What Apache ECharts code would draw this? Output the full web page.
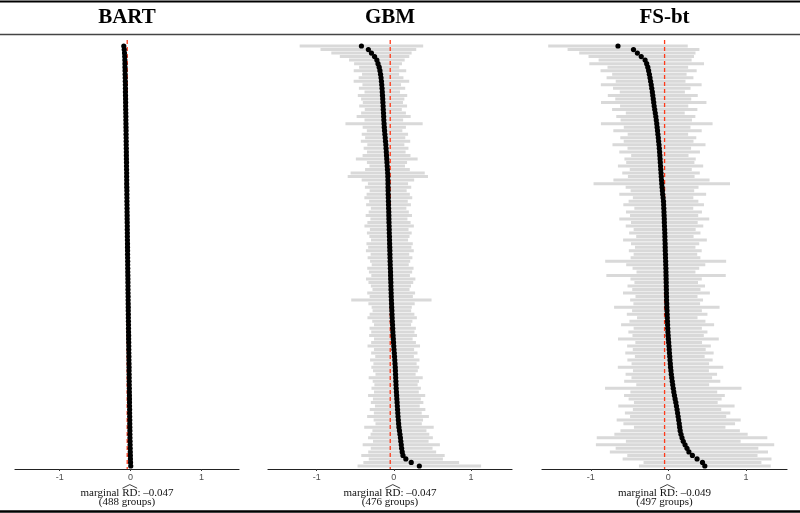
<!DOCTYPE html>
<html><head><meta charset="utf-8">
<script src="https://cdn.jsdelivr.net/npm/echarts@6/dist/echarts.min.js"></script>
<style>html,body{margin:0;padding:0;background:#fff}#c{width:800px;height:513px}</style>
</head><body><div id="c"></div>
<script>
const panelTitles = ['BART', 'GBM', 'FS-bt'];
const marginalRD = [-0.047, -0.047, -0.049];
const groupCounts = [488, 476, 497];
const xTicks = [-1, 0, 1];

const bartEst = [
-0.095,-0.089,-0.085,-0.082,-0.080,-0.079,-0.078,-0.077,-0.076,-0.075,
-0.074,-0.073,-0.072,-0.072,-0.071,-0.070,-0.069,-0.069,-0.068,-0.067,
-0.066,-0.066,-0.065,-0.064,-0.063,-0.063,-0.062,-0.061,-0.061,-0.060,
-0.059,-0.059,-0.058,-0.057,-0.057,-0.056,-0.055,-0.055,-0.054,-0.054,
-0.053,-0.052,-0.052,-0.051,-0.051,-0.050,-0.049,-0.049,-0.048,-0.048,
-0.047,-0.046,-0.046,-0.045,-0.045,-0.044,-0.043,-0.043,-0.042,-0.042,
-0.041,-0.040,-0.040,-0.039,-0.039,-0.038,-0.037,-0.037,-0.036,-0.036,
-0.035,-0.034,-0.034,-0.033,-0.032,-0.032,-0.031,-0.031,-0.030,-0.029,
-0.029,-0.028,-0.027,-0.027,-0.026,-0.025,-0.025,-0.024,-0.023,-0.023,
-0.022,-0.021,-0.021,-0.020,-0.019,-0.019,-0.018,-0.017,-0.017,-0.016,
-0.015,-0.015,-0.014,-0.013,-0.013,-0.012,-0.011,-0.011,-0.010,-0.009,
-0.009,-0.008,-0.007,-0.006,-0.005,-0.004,-0.003,-0.002,0.000,0.003];

const gbmEst = [
-0.420,-0.330,-0.290,-0.250,-0.220,-0.205,-0.190,-0.180,-0.172,-0.166,
-0.161,-0.157,-0.153,-0.150,-0.147,-0.144,-0.142,-0.139,-0.137,-0.134,
-0.132,-0.130,-0.127,-0.124,-0.120,-0.116,-0.112,-0.108,-0.104,-0.101,
-0.098,-0.095,-0.092,-0.089,-0.086,-0.083,-0.080,-0.078,-0.077,-0.076,
-0.075,-0.074,-0.073,-0.072,-0.070,-0.069,-0.068,-0.066,-0.065,-0.064,
-0.063,-0.061,-0.060,-0.059,-0.057,-0.056,-0.055,-0.053,-0.052,-0.051,
-0.050,-0.048,-0.047,-0.045,-0.043,-0.042,-0.041,-0.039,-0.038,-0.037,
-0.035,-0.034,-0.032,-0.030,-0.028,-0.026,-0.024,-0.022,-0.020,-0.017,
-0.015,-0.013,-0.010,-0.007,-0.004,-0.001,0.002,0.006,0.009,0.012,
0.015,0.018,0.020,0.022,0.024,0.026,0.028,0.030,0.033,0.036,
0.039,0.042,0.045,0.048,0.051,0.054,0.058,0.062,0.066,0.072,
0.079,0.085,0.090,0.096,0.101,0.108,0.118,0.155,0.225,0.330];

const gbmHalf = [
0.80,0.62,0.52,0.45,0.36,
0.31,0.26,0.34,0.24,0.29,0.36,0.25,0.30,0.23,0.32,0.28,0.26,0.31,0.24,0.29,0.35,
0.25,0.50,0.28,0.23,0.30,0.26,0.32,0.24,0.29,0.25,0.31,0.40,0.26,0.23,0.29,0.48,0.52,0.34,0.26,0.30,
0.24,0.28,0.31,0.25,0.29,0.23,0.26,0.30,0.24,0.28,0.32,0.25,0.29,0.26,0.24,0.30,0.28,0.31,0.25,0.29,
0.26,0.24,0.30,0.28,0.25,0.32,0.29,0.26,0.24,0.31,0.28,0.52,0.30,0.26,0.25,0.29,0.32,0.26,0.24,0.30,
0.28,0.31,0.25,0.29,0.34,0.26,0.30,0.25,0.32,0.28,0.31,0.29,0.26,0.35,0.30,0.28,0.32,0.29,0.37,0.31,
0.34,0.29,0.36,0.31,0.40,0.32,0.30,0.45,0.35,0.38,0.42,0.36,0.50,0.40,0.44,0.54,0.48,0.62,0.80];

const fsEst = [
-0.650,-0.450,-0.400,-0.350,-0.300,-0.280,-0.265,-0.255,-0.245,-0.237,
-0.229,-0.221,-0.214,-0.207,-0.201,-0.195,-0.189,-0.183,-0.176,-0.169,
-0.162,-0.156,-0.150,-0.145,-0.140,-0.135,-0.130,-0.126,-0.121,-0.117,
-0.113,-0.110,-0.107,-0.104,-0.101,-0.098,-0.095,-0.092,-0.089,-0.085,
-0.081,-0.077,-0.073,-0.068,-0.063,-0.061,-0.059,-0.057,-0.055,-0.053,
-0.052,-0.050,-0.048,-0.046,-0.045,-0.044,-0.042,-0.041,-0.040,-0.038,
-0.037,-0.035,-0.034,-0.032,-0.031,-0.030,-0.029,-0.028,-0.027,-0.026,
-0.025,-0.024,-0.023,-0.021,-0.020,-0.018,-0.016,-0.014,-0.012,-0.010,
-0.008,-0.006,-0.003,0.000,0.004,0.008,0.011,0.014,0.018,0.021,
0.025,0.028,0.033,0.038,0.044,0.050,0.056,0.063,0.070,0.078,
0.087,0.096,0.104,0.112,0.119,0.126,0.133,0.140,0.146,0.152,
0.163,0.176,0.192,0.215,0.240,0.265,0.310,0.370,0.440,0.470];

const fsHalf = [
0.90,0.85,0.75,0.68,0.60,0.74,0.52,0.62,0.48,0.56,
0.45,0.65,0.50,0.42,0.58,0.49,0.68,0.44,0.55,0.38,
0.51,0.46,0.72,0.43,0.57,0.39,0.49,0.45,0.60,0.41,
0.52,0.37,0.46,0.44,0.55,0.40,0.50,0.43,0.62,0.88,
0.47,0.41,0.56,0.39,0.45,0.52,0.38,0.49,0.44,0.58,
0.43,0.50,0.40,0.46,0.37,0.54,0.44,0.39,0.47,0.41,
0.45,0.78,0.51,0.43,0.38,0.77,0.46,0.41,0.50,0.44,
0.56,0.40,0.47,0.43,0.68,0.45,0.52,0.39,0.49,0.60,
0.44,0.51,0.46,0.65,0.43,0.54,0.47,0.57,0.45,0.55,
0.50,0.68,0.49,0.59,0.52,0.62,0.47,0.88,0.56,0.65,
0.60,0.54,0.75,0.57,0.68,0.62,0.80,0.72,0.59,0.77,
0.86,1.10,0.74,1.15,0.92,1.02,0.84,0.96,0.76,0.85];

const panelEst = [bartEst, gbmEst, fsEst];
const panelHalf = [null, gbmHalf, fsHalf];

// layout
const panels = [{left: 15, width: 224}, {left: 268, width: 244}, {left: 542, width: 245}];
const gridTop = 40, gridBottom = 469;
const gridH = gridBottom - gridTop;
const xMin = -1.63, xMax = 1.53;

const chart = echarts.init(document.getElementById('c'), null, {renderer: 'canvas'});

const grids = [], xAxes = [], yAxes = [], series = [], graphics = [];
const serif = '"Liberation Serif", "Times New Roman", serif';
const mctx = document.createElement('canvas').getContext('2d');
const smallFont = '11px "Liberation Serif"';
mctx.font = smallFont;

panels.forEach((p, k) => {
  const est = panelEst[k];
  const N = est.length;
  const span = gridH * (N - 1) / 420;
  const yMin = -6 * span / gridH;
  grids.push({left: p.left, width: p.width, top: gridTop, height: gridH});
  xAxes.push({
    type: 'value', gridIndex: k, min: xMin, max: xMax,
    splitLine: {show: false},
    axisLine: {show: true, onZero: false, lineStyle: {color: '#222', width: 1.2}},
    axisTick: {show: true, length: 2, customValues: xTicks, lineStyle: {color: '#333'}},
    axisLabel: {customValues: xTicks, color: '#4d4d4d', fontSize: 9, margin: 4,
      fontFamily: '"Liberation Sans", Arial, sans-serif'}
  });
  yAxes.push({type: 'value', gridIndex: k, inverse: true, min: yMin, max: yMin + span, show: false});

  const half = panelHalf[k];
  if (half) {
    series.push({
      type: 'custom', xAxisIndex: k, yAxisIndex: k, z: 1, silent: true,
      data: est.map((e, i) => [e, half[i], i]),
      encode: {x: 0, y: 2},
      renderItem: (params, api) => {
        const e = api.value(0), h = api.value(1), i = api.value(2);
        const a = api.coord([e - h, i]), b = api.coord([e + h, i]);
        return {type: 'line', shape: {x1: a[0], y1: a[1], x2: b[0], y2: b[1]},
          style: {stroke: '#d9d9d9', lineWidth: 3}};
      }
    });
  }
  const rd = marginalRD[k];
  series.push({
    type: 'custom', xAxisIndex: k, yAxisIndex: k, z: 2, silent: true,
    data: [[rd, 0]],
    renderItem: (params, api) => {
      const x = api.coord([api.value(0), 0])[0];
      const cs = params.coordSys;
      return {type: 'line', shape: {x1: x, y1: cs.y, x2: x, y2: cs.y + cs.height},
        style: {stroke: '#ff3a1a', lineWidth: 1.3, lineDash: [4, 3]}};
    }
  });
  series.push({
    type: 'scatter', xAxisIndex: k, yAxisIndex: k, z: 3, silent: true,
    symbolSize: 5.2, itemStyle: {color: '#000', opacity: 1},
    data: est.map((e, i) => [e, i])
  });

  const cx = p.left + p.width / 2;
  graphics.push({type: 'text', x: cx, y: 18,
    style: {text: panelTitles[k], font: 'bold 21px ' + serif, fill: '#000', textAlign: 'center', textVerticalAlign: 'middle'}});
  const pre = 'marginal ', rdTxt = 'RD', post = ': \u2013' + Math.abs(rd).toFixed(3);
  const full = pre + rdTxt + post;
  const fw = mctx.measureText(full).width;
  const x0 = cx - fw / 2;
  const rs = x0 + mctx.measureText(pre).width;
  const re = rs + mctx.measureText(rdTxt).width;
  graphics.push({type: 'text', x: x0, y: 493,
    style: {text: full, font: smallFont, fill: '#111', textAlign: 'left', textVerticalAlign: 'middle'}});
  graphics.push({type: 'polyline', shape: {points: [[rs + 0.3, 488.2], [(rs + re) / 2, 484.6], [re - 0.3, 488.2]]},
    style: {stroke: '#111', lineWidth: 0.8, fill: null}});
  graphics.push({type: 'text', x: cx, y: 502.5,
    style: {text: '(' + groupCounts[k] + ' groups)', font: smallFont, fill: '#111', textAlign: 'center', textVerticalAlign: 'middle'}});
});

graphics.push({type: 'line', shape: {x1: 0, y1: 1.5, x2: 800, y2: 1.5}, style: {stroke: '#000', lineWidth: 2}});
graphics.push({type: 'line', shape: {x1: 0, y1: 34.5, x2: 800, y2: 34.5}, style: {stroke: '#444', lineWidth: 1.6}});
graphics.push({type: 'line', shape: {x1: 0, y1: 511.5, x2: 800, y2: 511.5}, style: {stroke: '#000', lineWidth: 2.6}});

chart.setOption({
  animation: false,
  backgroundColor: '#fff',
  grid: grids, xAxis: xAxes, yAxis: yAxes, series: series,
  graphic: graphics
});
</script></body></html>
